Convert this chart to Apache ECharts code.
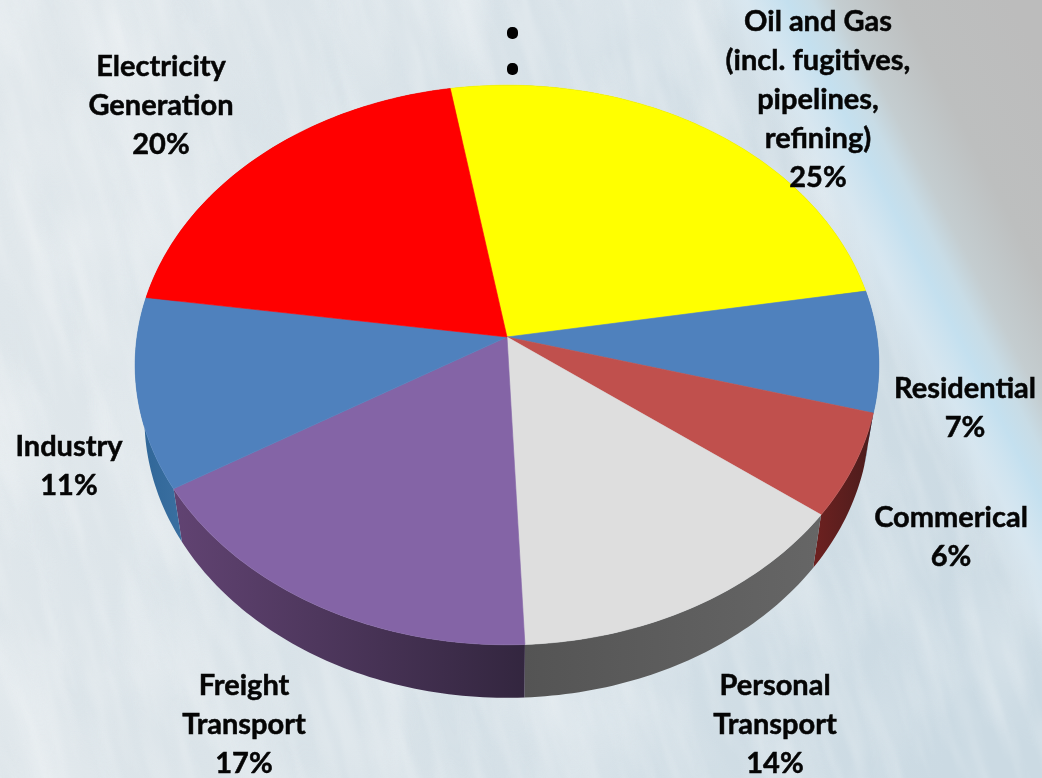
<!DOCTYPE html>
<html>
<head>
<meta charset="utf-8">
<style>
  html, body { margin: 0; padding: 0; width: 1042px; height: 778px; overflow: hidden; background: #dbe5ea; }
  .layer { position: absolute; left: 0; top: 0; }
  #cloudDeck { position: absolute; left: -400px; top: -400px; transform: rotate(-16deg); transform-origin: 921px 789px; }
  #backdrop { position: absolute; left: 0; top: 0; width: 1042px; height: 778px; overflow: hidden; }
  #chart { position: absolute; left: 0; top: 0; width: 1042px; height: 778px; }
</style>
<script src="https://cdn.jsdelivr.net/npm/echarts@6/dist/echarts.min.js"></script>
</head>
<body>
<!-- Backdrop: Earth's limb seen from orbit, with streaky cloud cover -->
<div id="backdrop">
  <svg class="layer" width="1042" height="778" xmlns="http://www.w3.org/2000/svg">
    <defs>
      <linearGradient id="ground" gradientUnits="userSpaceOnUse" x1="0" y1="300" x2="1000" y2="500">
        <stop offset="0" stop-color="#e0e7eb"/>
        <stop offset="0.45" stop-color="#d8e2e8"/>
        <stop offset="1" stop-color="#cbdae3"/>
      </linearGradient>
    </defs>
    <rect width="1042" height="778" fill="url(#ground)"/>
  </svg>
  <svg id="cloudDeck" width="1900" height="1600" xmlns="http://www.w3.org/2000/svg">
    <defs>
      <filter id="streaks" x="0" y="0" width="100%" height="100%">
        <feTurbulence type="fractalNoise" baseFrequency="0.06 0.008" numOctaves="3" seed="7"/>
        <feColorMatrix type="matrix" values="0 0 0 0 1  0 0 0 0 1  0 0 0 0 1  2.6 0 0 0 -1.1"/>
        <feGaussianBlur stdDeviation="1.8"/>
      </filter>
      <filter id="patches" x="0" y="0" width="100%" height="100%">
        <feTurbulence type="fractalNoise" baseFrequency="0.012 0.005" numOctaves="3" seed="31"/>
        <feColorMatrix type="matrix" values="0 0 0 0 1  0 0 0 0 1  0 0 0 0 1  2.6 0 0 0 -1.15"/>
        <feGaussianBlur stdDeviation="4"/>
      </filter>
      <filter id="shade" x="0" y="0" width="100%" height="100%">
        <feTurbulence type="fractalNoise" baseFrequency="0.03 0.006" numOctaves="2" seed="21"/>
        <feColorMatrix type="matrix" values="0 0 0 0 0.62  0 0 0 0 0.72  0 0 0 0 0.78  2.2 0 0 0 -1.0"/>
        <feGaussianBlur stdDeviation="2"/>
      </filter>
    </defs>
    <rect width="1900" height="1600" filter="url(#shade)" opacity="0.14"/>
    <rect width="1900" height="1600" filter="url(#patches)" opacity="0.25"/>
    <rect width="1900" height="1600" filter="url(#streaks)" opacity="0.18"/>
  </svg>
  <svg class="layer" width="1042" height="778" xmlns="http://www.w3.org/2000/svg">
    <defs>
      <linearGradient id="limb" gradientUnits="userSpaceOnUse" x1="0" y1="0" x2="891" y2="-455">
        <stop offset="0.63" stop-color="#dce9f1" stop-opacity="0"/>
        <stop offset="0.665" stop-color="#d8e8f2" stop-opacity="0.8"/>
        <stop offset="0.70" stop-color="#c4e0ef"/>
        <stop offset="0.722" stop-color="#c8dce6"/>
        <stop offset="0.745" stop-color="#c4cdd0"/>
        <stop offset="0.80" stop-color="#bdbfbf"/>
        <stop offset="0.9" stop-color="#bcbcbc"/>
      </linearGradient>
    </defs>
    <rect width="1042" height="778" fill="url(#limb)"/>
  </svg>
</div>
<div id="chart"></div>
<script>
// Shares of emissions by sector, in percent, clockwise from Oil and Gas
const sectors = [
  'Oil and Gas\n(incl. fugitives,\npipelines,\nrefining)',
  'Residential',
  'Commerical',
  'Personal\nTransport',
  'Freight\nTransport',
  'Industry',
  'Electricity\nGeneration'
];
const shares = [25, 7, 6, 14, 17, 11, 20];

const faceColors = ['#ffff00', '#4f81bd', '#c0504d', '#dedede', '#8464a6', '#4f81bd', '#ff0000'];
const wallColors = [
  ['#999900', '#999900'],
  ['#2f5c8f', '#2f5c8f'],
  ['#6e2120', '#4a1c1c'],
  ['#545454', '#666666'],
  ['#614372', '#33263f'],
  ['#2e6597', '#3a6fa0'],
  ['#990000', '#990000']
];

// Centre of each label block
const labelCentres = [
  [818, 100], [965, 408], [951, 537], [775, 725], [244, 725], [69, 466], [161, 106]
];

// Perspective projection of the tilted disc
const disc = { cx: 507, cy: 337, rx: 370, ry: 277, tilt: 0.1, startDeg: -9.7, depth: 53, bottomScale: 0.975 };

function project(deg, lower) {
  const t = deg * Math.PI / 180;
  const u = Math.sin(t);
  const v = -Math.cos(t);
  const w = 1 - disc.tilt * v;
  let x = disc.rx * u / w;
  let y = disc.ry * v / w;
  if (lower) { x *= disc.bottomScale; y += disc.depth; }
  return [disc.cx + x, disc.cy + y];
}

const total = shares.reduce((a, b) => a + b, 0);
function sweep(index) {
  let before = 0;
  for (let i = 0; i < index; i++) before += shares[i];
  const from = disc.startDeg + before / total * 360;
  return [from, from + shares[index] / total * 360];
}
function arc(from, to, lower) {
  const pts = [];
  const steps = Math.max(2, Math.ceil(to - from));
  for (let i = 0; i <= steps; i++) pts.push(project(from + (to - from) * i / steps, lower));
  return pts;
}

const chart = echarts.init(document.getElementById('chart'), null, { renderer: 'canvas' });

chart.setOption({
  backgroundColor: 'transparent',
  animation: false,
  graphic: [
    { type: 'rect', shape: { x: 507, y: 27, width: 11, height: 12, r: 5 }, style: { fill: '#000' } },
    { type: 'rect', shape: { x: 507, y: 63, width: 11, height: 12, r: 5 }, style: { fill: '#000' } }
  ],
  series: [
    {
      // Rim of the disc
      type: 'custom',
      coordinateSystem: 'none',
      z: 1,
      silent: true,
      data: shares,
      renderItem(params) {
        const i = params.dataIndex;
        const [from, to] = sweep(i);
        const points = arc(from, to, false).concat(arc(from, to, true).reverse());
        const fill = {
          type: 'linear', x: 0, y: 0, x2: 1, y2: 0,
          colorStops: [
            { offset: 0, color: wallColors[i][0] },
            { offset: 1, color: wallColors[i][1] }
          ]
        };
        return { type: 'polygon', shape: { points }, style: { fill, stroke: null } };
      }
    },
    {
      // Top face slices
      type: 'custom',
      coordinateSystem: 'none',
      z: 2,
      silent: true,
      data: shares,
      renderItem(params) {
        const i = params.dataIndex;
        const [from, to] = sweep(i);
        const points = [[disc.cx, disc.cy]].concat(arc(from, to, false));
        return {
          type: 'polygon',
          shape: { points },
          style: { fill: faceColors[i], stroke: faceColors[i], lineWidth: 0.6 }
        };
      }
    },
    {
      // Sector names with their shares
      type: 'custom',
      coordinateSystem: 'none',
      z: 3,
      silent: true,
      data: shares,
      renderItem(params, api) {
        const i = params.dataIndex;
        return {
          type: 'text',
          x: labelCentres[i][0],
          y: labelCentres[i][1],
          style: {
            text: sectors[i] + '\n' + api.value(0) + '%',
            fill: '#050505',
            stroke: '#050505',
            lineWidth: 0.5,
            font: 'bold 29px Lato',
            lineHeight: 39,
            align: 'center',
            verticalAlign: 'middle'
          }
        };
      }
    }
  ]
});
</script>
</body>
</html>
